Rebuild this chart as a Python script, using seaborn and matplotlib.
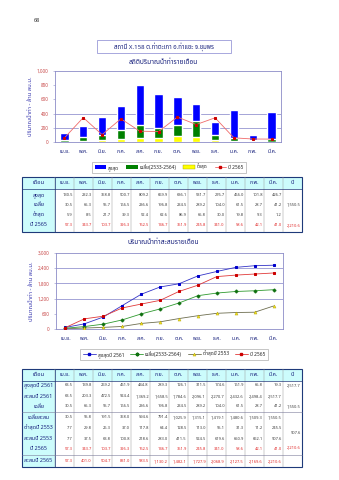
import numpy as np
import pandas as pd
import matplotlib
matplotlib.use("Agg")
import matplotlib.pyplot as plt
import seaborn as sns
from matplotlib import font_manager, ft2font
from matplotlib.patches import Rectangle, Patch
from matplotlib.lines import Line2D

# ---------------- data ----------------
months = ["เม.ย.", "พ.ค.", "มิ.ย.", "ก.ค.", "ส.ค.", "ก.ย.",
          "ต.ค.", "พ.ย.", "ธ.ค.", "ม.ค.", "ก.พ.", "มี.ค."]

flow_max = [130.5, 232.3, 358.8, 500.7, 809.2, 669.9, 636.1, 531.7, 276.7, 456.0, 101.8, 426.7]
flow_avg = [30.5, 65.3, 95.7, 166.5, 236.6, 196.8, 234.5, 289.2, 104.0, 61.5, 28.7, 41.2]
flow_min = [5.9, 8.5, 21.7, 39.3, 52.4, 62.6, 86.9, 65.8, 30.0, 19.8, 9.3, 1.2]
flow_2565 = [57.3, 343.7, 103.7, 326.3, 152.5, 146.7, 351.9, 245.8, 341.0, 58.6, 42.1, 41.0]

max_2561 = [63.5, 139.8, 269.2, 451.9, 444.8, 289.3, 126.1, 311.5, 174.6, 161.9, 65.8, 19.3]
cum_2561 = [63.5, 203.3, 472.5, 924.4, 1369.2, 1658.5, 1784.6, 2096.1, 2270.7, 2432.6, 2498.4, 2517.7]
cum_avg = [30.5, 95.8, 191.5, 358.0, 594.6, 791.4, 1025.9, 1315.1, 1419.1, 1480.6, 1509.3, 1550.5]
min_2553 = [7.7, 29.8, 26.3, 37.0, 117.8, 64.4, 128.5, 113.0, 95.1, 31.3, 11.2, 245.5]
cum_2553 = [7.7, 37.5, 63.8, 100.8, 218.6, 283.0, 411.5, 524.5, 619.6, 650.9, 662.1, 907.6]
cum_2565 = [57.3, 401.0, 504.7, 831.0, 983.5, 1130.2, 1482.1, 1727.9, 2068.9, 2127.5, 2169.6, 2210.6]

total_2561 = 2517.7
total_avg = 1550.5
total_2553 = 907.6
total_2565 = 2210.6

station = "สถานี X.158 ต.ท่าตะเภา อ.ท่าแซะ จ.ชุมพร"
title_monthly = "สถิติปริมาณน้ำท่ารายเดือน"
title_cumulative = "ปริมาณน้ำท่าสะสมรายเดือน"
y_label = "ปริมาณน้ำท่า - ล้าน ลบ.ม."
legend1_labels = ["สูงสุด", "เฉลี่ย(2533-2564)", "ต่ำสุด", "ปี 2565"]
legend2_labels = ["สูงสุดปี 2561", "เฉลี่ย(2533-2564)", "ต่ำสุดปี 2553", "ปี 2565"]


# ---------------- fonts ----------------
def thai_family():
    preferred = ["Noto Sans Thai", "Noto Serif Thai", "Sarabun", "Loma",
                 "Garuda", "Waree", "Norasi", "Kinnari", "Laksaman"]
    names = {f.name for f in font_manager.fontManager.ttflist}
    for p in preferred:
        if p in names:
            return p
    for f in font_manager.fontManager.ttflist:
        try:
            cmap = ft2font.FT2Font(f.fname).get_charmap()
        except Exception:
            continue
        if 0x0E01 in cmap and 0x0E32 in cmap and 0x0E48 in cmap:
            return f.name
    return None


sns.set_theme(style="white")
thai = thai_family()
plt.rcParams["font.family"] = ([thai] if thai else []) + ["DejaVu Sans"]

W, H = 339, 480
fig = plt.figure(figsize=(W / 100, H / 100), dpi=100)
fig.patch.set_facecolor("white")


def axes_px(left, top, right, bottom):
    return fig.add_axes([left / W, 1 - bottom / H, (right - left) / W, (bottom - top) / H])


page = axes_px(0, 0, W, H)
page.set_xlim(0, W)
page.set_ylim(H, 0)
page.axis("off")

NAVY = "#1a237e"
SPINE = "#8c8cc8"
GRID = "#8080c8"
TICKRED = "#c84848"
RED = "#e02828"

# page header
page.text(37, 20, "68", fontsize=4, color="#333333", ha="center", va="center")
page.add_patch(Rectangle((97, 40), 134, 13, facecolor="white", edgecolor="#9a9ad8", lw=0.6))
page.text(164, 46.5, station, fontsize=4.4, color=NAVY, ha="center", va="center", fontweight="bold")
page.text(163, 63, title_monthly, fontsize=4.8, color=NAVY, ha="center", va="center", fontweight="bold")
page.text(163, 242, title_cumulative, fontsize=4.8, color=NAVY, ha="center", va="center", fontweight="bold")


def style_axes(ax, ymax, ystep, grid_vals):
    ax.set_xlim(-0.5, 11.5)
    ax.set_ylim(0, ymax)
    ticks = np.arange(0, ymax + 1, ystep)
    ax.set_yticks(ticks)
    ax.set_yticklabels([f"{int(t):,}" for t in ticks], fontsize=3.3, color=TICKRED)
    ax.set_xticks(range(12))
    ax.set_xticklabels(months, fontsize=3.8, color=NAVY)
    ax.set_xlabel("")
    ax.set_ylabel(y_label, fontsize=4.3, color="#3a3ab0", labelpad=3)
    for s in ax.spines.values():
        s.set_visible(True)
        s.set_color(SPINE)
        s.set_linewidth(0.6)
    ax.tick_params(axis="y", length=1.5, width=0.4, color=SPINE, pad=3, left=True)
    ax.tick_params(axis="x", length=0, pad=5)
    for v in grid_vals:
        ax.axhline(v, color=GRID, lw=0.5, zorder=0.5)
    ax.set_facecolor("white")


# ---------------- monthly chart ----------------
ax1 = axes_px(55, 71, 281, 142)
df1 = pd.DataFrame({"month": months, "max": flow_max, "avg": flow_avg,
                    "min": flow_min, "y2565": flow_2565})
sns.barplot(data=df1, x="month", y="max", order=months, color="#0000ff",
            saturation=1, width=0.45, ax=ax1, zorder=2)
sns.barplot(data=df1, x="month", y="avg", order=months, color="#008000",
            saturation=1, width=0.45, ax=ax1, zorder=2)
sns.barplot(data=df1, x="month", y="min", order=months, color="#ffff00",
            saturation=1, width=0.45, ax=ax1, zorder=2)
sns.lineplot(x=np.arange(12), y=df1["y2565"].to_numpy(), ax=ax1, color="#f06a6a",
             lw=0.6, marker="s", markersize=2.0, markerfacecolor="#cc0000",
             markeredgecolor="#cc0000", zorder=3)
style_axes(ax1, 1000, 200, [200, 400])

h1 = [Patch(facecolor="#0000ff", edgecolor="none"),
      Patch(facecolor="#008000", edgecolor="none"),
      Patch(facecolor="#ffff00", edgecolor="#a0a000", lw=0.3),
      Line2D([], [], color="#f06a6a", lw=0.6, marker="s", markersize=2,
             markerfacecolor="#cc0000", markeredgecolor="#cc0000")]
leg1 = fig.legend(h1, legend1_labels, ncol=4, loc="center",
                  bbox_to_anchor=(169 / W, 1 - 167.5 / H), fontsize=3.5,
                  frameon=True, fancybox=False, edgecolor="#9a9a9a",
                  handlelength=2.4, handleheight=0.9, columnspacing=1.4,
                  handletextpad=0.4, borderpad=0.5)
leg1.get_frame().set_linewidth(0.5)

# ---------------- cumulative chart ----------------
ax2 = axes_px(56, 253, 283, 329)
df2 = pd.DataFrame({"x": np.arange(12), "max": cum_2561, "avg": cum_avg,
                    "min": cum_2553, "y2565": cum_2565})
sns.lineplot(data=df2, x="x", y="max", ax=ax2, color="#3434c8", lw=0.6, marker="s",
             markersize=2.0, markerfacecolor="#0000cc", markeredgecolor="#0000cc", zorder=3)
sns.lineplot(data=df2, x="x", y="avg", ax=ax2, color="#2f9a2f", lw=0.6, marker="P",
             markersize=2.0, markerfacecolor="#107010", markeredgecolor="#107010", zorder=3)
sns.lineplot(data=df2, x="x", y="min", ax=ax2, color="#6e6e50", lw=0.6, marker="^",
             markersize=2.2, markerfacecolor="#f0e020", markeredgecolor="#b0a000",
             markeredgewidth=0.3, zorder=3)
sns.lineplot(data=df2, x="x", y="y2565", ax=ax2, color="#e03a3a", lw=0.6, marker="s",
             markersize=2.0, markerfacecolor="#cc0000", markeredgecolor="#cc0000", zorder=3)
style_axes(ax2, 3000, 600, [1200, 1800, 2400])

h2 = [Line2D([], [], color="#3434c8", lw=0.6, marker="s", markersize=2,
             markerfacecolor="#0000cc", markeredgecolor="#0000cc"),
      Line2D([], [], color="#2f9a2f", lw=0.6, marker="P", markersize=2,
             markerfacecolor="#107010", markeredgecolor="#107010"),
      Line2D([], [], color="#6e6e50", lw=0.6, marker="^", markersize=2.2,
             markerfacecolor="#f0e020", markeredgecolor="#b0a000", markeredgewidth=0.3),
      Line2D([], [], color="#e03a3a", lw=0.6, marker="s", markersize=2,
             markerfacecolor="#cc0000", markeredgecolor="#cc0000")]
leg2 = fig.legend(h2, legend2_labels, ncol=4, loc="center",
                  bbox_to_anchor=(174 / W, 1 - 354.5 / H), fontsize=3.5,
                  frameon=True, fancybox=False, edgecolor="#9a9a9a",
                  handlelength=2.6, columnspacing=1.3, handletextpad=0.4,
                  borderpad=0.55)
leg2.get_frame().set_linewidth(0.5)

# ---------------- tables ----------------
X0, C1, XM, X1 = 22, 55, 283, 302
CW = (XM - C1) / 12
CYAN = "#ccfcfc"
BORDER = "#1f3a7a"


def fmt(v):
    return f"{v:,.1f}"


def draw_table(top, head_bot, bottom, rows, year_cells, hlines):
    # backgrounds
    page.add_patch(Rectangle((X0, top), X1 - X0, head_bot - top, facecolor=CYAN, edgecolor="none"))
    page.add_patch(Rectangle((X0, head_bot), C1 - X0, bottom - head_bot, facecolor=CYAN, edgecolor="none"))
    # vertical separators
    for i in range(13):
        x = C1 + i * CW
        page.plot([x, x], [top, bottom], color="#9a9a9a", lw=0.35)
    page.plot([C1, C1], [top, bottom], color=BORDER, lw=0.5)
    # horizontal separators
    page.plot([X0, X1], [head_bot, head_bot], color=BORDER, lw=0.5)
    for y in hlines:
        page.plot([X0, X1], [y, y], color="#7a7a9a", lw=0.4)
    page.add_patch(Rectangle((X0, top), X1 - X0, bottom - top, facecolor="none",
                             edgecolor=BORDER, lw=0.8))
    # header
    hy = (top + head_bot) / 2
    page.text((X0 + C1) / 2, hy, "เดือน", fontsize=4.2, color=NAVY, ha="center", va="center", fontweight="bold")
    for i, m in enumerate(months):
        page.text(C1 + (i + 0.5) * CW, hy, m, fontsize=3.8, color=NAVY, ha="center", va="center")
    page.text((XM + X1) / 2, hy, "ปี", fontsize=4.2, color=NAVY, ha="center", va="center", fontweight="bold")
    # body
    for y, label, values, color in rows:
        page.text((X0 + C1) / 2, y, label, fontsize=3.9, color=NAVY, ha="center", va="center", fontweight="bold")
        for i, v in enumerate(values):
            page.text(C1 + (i + 1) * CW - 1.2, y, fmt(v), fontsize=2.9, color=color, ha="right", va="center")
    for y, v, color in year_cells:
        page.text(X1 - 1.2, y, fmt(v), fontsize=2.9, color=color, ha="right", va="center")


GREY = "#3c3c3c"
draw_table(177, 189, 232,
           [(195, "สูงสุด", flow_max, GREY),
            (204.5, "เฉลี่ย", flow_avg, GREY),
            (214.5, "ต่ำสุด", flow_min, GREY),
            (225, "ปี 2565", flow_2565, RED)],
           [(204.5, total_avg, GREY), (225, total_2565, RED)],
           [])

draw_table(369, 380.5, 467,
           [(385.5, "สูงสุดปี 2561", max_2561, GREY),
            (396, "สะสมปี 2561", cum_2561, GREY),
            (406, "เฉลี่ย", flow_avg, GREY),
            (417.5, "เฉลี่ยสะสม", cum_avg, GREY),
            (428, "ต่ำสุดปี 2553", min_2553, GREY),
            (438.5, "สะสมปี 2553", cum_2553, GREY),
            (449, "ปี 2565", flow_2565, RED),
            (461, "สะสมปี 2565", cum_2565, RED)],
           [(385.5, total_2561, GREY), (406, total_avg, GREY),
            (433, total_2553, GREY), (447, total_2565, RED)],
           [412, 455])

fig.savefig("out.png", dpi=100, facecolor="white")
